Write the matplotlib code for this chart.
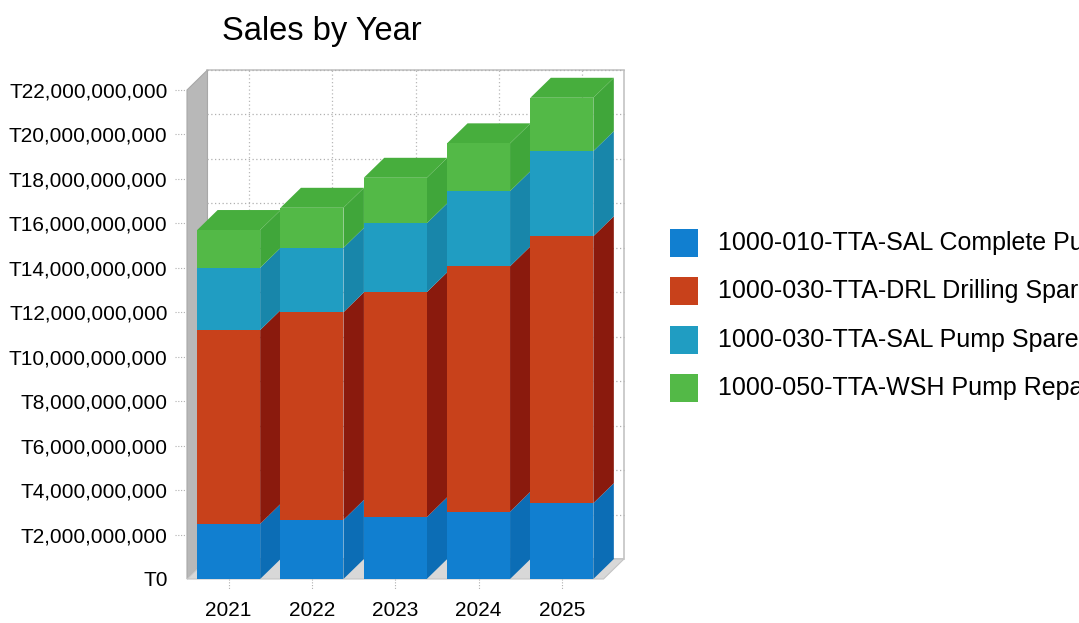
import numpy as np
import matplotlib
matplotlib.use("Agg")
from matplotlib import pyplot as plt
from matplotlib.patches import Polygon, Rectangle

plt.rcParams['font.family'] = ['Liberation Sans', 'DejaVu Sans']

# Data (values in T)
years = ['2021', '2022', '2023', '2024', '2025']
series_names = ['1000-010-TTA-SAL Complete Pumps',
                '1000-030-TTA-DRL Drilling Spares',
                '1000-030-TTA-SAL Pump Spares',
                '1000-050-TTA-WSH Pump Repairs']
complete_pumps = [2.48e9, 2.66e9, 2.78e9, 3.03e9, 3.41e9]
drilling_spares = [8.72e9, 9.34e9, 10.12e9, 11.04e9, 12.01e9]
pump_spares = [2.80e9, 2.90e9, 3.10e9, 3.38e9, 3.83e9]
pump_repairs = [1.70e9, 1.80e9, 2.05e9, 2.15e9, 2.40e9]
yticks = np.arange(0, 22e9 + 1, 2e9)

series = [complete_pumps, drilling_spares, pump_spares, pump_repairs]
front_cols = ['#117fd0', '#c8411b', '#209dc2', '#53b947']
side_cols = ['#0c6db5', '#8a1a0d', '#1886aa', '#40a63a']
top_col = '#47ae3d'

W, H = 1079, 623
fig = plt.figure(figsize=(W / 100, H / 100), dpi=100)
# axes placed in pixels: front plane left 187, back wall right 624, floor 579, wall top 70
ax = fig.add_axes([187 / W, (H - 579) / H, (624 - 187) / W, (579 - 70) / H])

ymax = 22e9
dx = 0.246          # depth offset in x units
dy = 0.9e9          # depth offset in y units
bw = 0.756
x = np.arange(len(years))

ax.set_xlim(-0.5, 4.5 + dx)
ax.set_ylim(0, ymax + dy)
for s in ax.spines.values():
    s.set_visible(False)

# walls and floor
ax.add_patch(Rectangle((-0.5 + dx, dy), 5, ymax, facecolor='white',
                       edgecolor='#c4c4c4', lw=1.2, zorder=0.5, clip_on=False))
ax.add_patch(Polygon([(-0.5, 0), (-0.5, ymax), (-0.5 + dx, ymax + dy), (-0.5 + dx, dy)],
                     closed=True, facecolor='#b8b8b8', edgecolor='#a8a8a8', lw=0.8,
                     zorder=0.6, clip_on=False))
ax.add_patch(Polygon([(-0.5, 0), (4.5, 0), (4.5 + dx, dy), (-0.5 + dx, dy)],
                     closed=True, facecolor='#d8d8d8', edgecolor='#c4c4c4', lw=0.8,
                     zorder=0.6, clip_on=False))
for yv in yticks[1:]:
    ax.plot([-0.5 + dx, 4.5 + dx], [yv + dy, yv + dy], ls=(0, (1, 2)), color='#b0b0b0',
            lw=0.9, zorder=0.7, clip_on=False)
for xi in x:
    ax.plot([xi + dx, xi + dx], [dy, ymax + dy], ls=(0, (1, 2)), color='#b8b8b8',
            lw=0.9, zorder=0.7)

# bars
bottom = np.zeros(len(years))
for j, vals in enumerate(series):
    vals = np.array(vals)
    ax.bar(x, vals, bw, bottom=bottom, color=front_cols[j], zorder=3,
           label=series_names[j])
    for i in range(len(years)):
        xr = x[i] + bw / 2
        xl = x[i] - bw / 2
        b0 = bottom[i]
        b1 = bottom[i] + vals[i]
        ax.add_patch(Polygon([(xr, b0), (xr, b1), (xr + dx, b1 + dy), (xr + dx, b0 + dy)],
                             closed=True, facecolor=side_cols[j], edgecolor='none', zorder=2))
        if j == len(series) - 1:
            ax.add_patch(Polygon([(xl, b1), (xr, b1), (xr + dx, b1 + dy), (xl + dx, b1 + dy)],
                                 closed=True, facecolor=top_col, edgecolor='none', zorder=2,
                                 clip_on=False))
    bottom = bottom + vals

# ticks
ax.set_yticks(yticks)
ax.set_yticklabels(['T{:,.0f}'.format(v) for v in yticks], fontsize=15)
ax.set_xticks(x)
ax.set_xticklabels(years, fontsize=15)
ax.tick_params(axis='y', length=0, pad=14)
ax.tick_params(axis='x', length=0, pad=16)
for yv in yticks[1:]:
    ax.plot([-0.64, -0.52], [yv, yv], ls=(0, (1, 1.5)), color='#b0b0b0', lw=0.8, clip_on=False)
for xi in x:
    ax.plot([xi, xi], [0, -0.5e9], ls=(0, (1, 1.5)), color='#b0b0b0', lw=0.8, clip_on=False)

fig.text(222 / W, 1 - 40 / H, 'Sales by Year', fontsize=23.5, ha='left', va='baseline')

# legend drawn by hand; the reference cuts the names at the right edge
for j, name in enumerate(series_names):
    yc = 243 + j * 48.3
    fig.patches.append(Rectangle((670 / W, 1 - (yc + 14) / H), 28 / W, 28 / H,
                                 facecolor=front_cols[j], edgecolor='none',
                                 transform=fig.transFigure, figure=fig))
    fig.text(718 / W, 1 - yc / H, name, fontsize=18, ha='left', va='center')

fig.savefig('out.png', dpi=100)
